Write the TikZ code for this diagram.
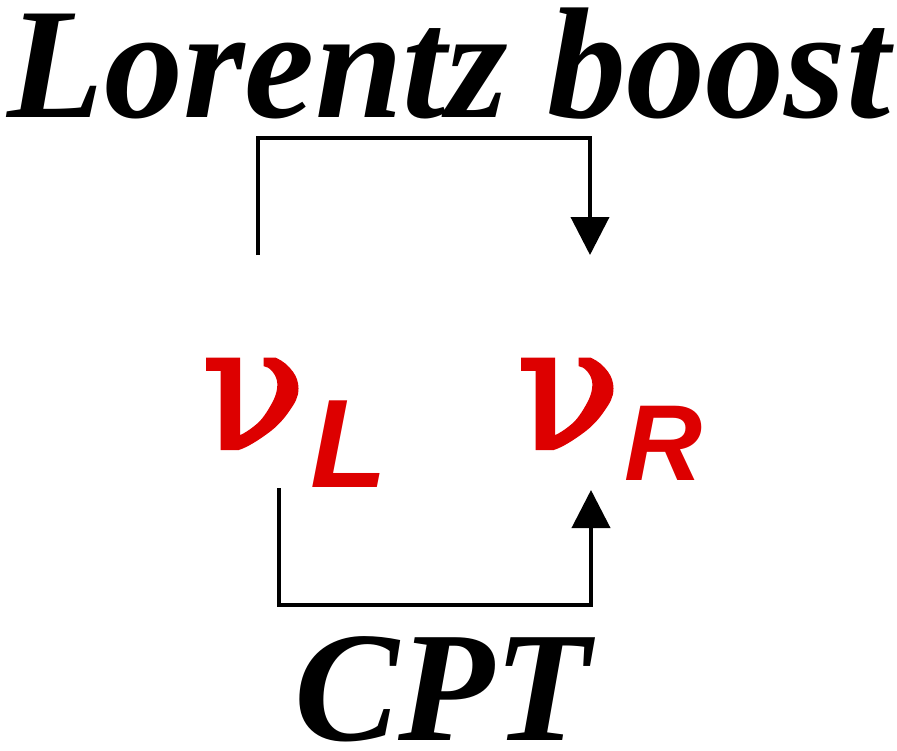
\documentclass[tikz,border=0pt]{standalone}
\usepackage{fontspec}
\setmainfont{Liberation Serif}
\newfontfamily\sanslab{Liberation Sans}
\newfontfamily\nufont[FakeBold=2.5]{DejaVu Serif}
\usetikzlibrary{arrows.meta}
\definecolor{nured}{RGB}{221,0,0}
\begin{document}
\begin{tikzpicture}[x=1pt,y=1pt,
  lbl/.style={inner sep=0pt,outer sep=0pt,anchor=base west,text depth=0pt},
  big/.style={lbl,text height=104pt,font=\fontsize{#1}{160}\selectfont\bfseries\itshape},
  nu/.style={lbl,text=nured,font=\nufont\fontsize{170}{170}\selectfont},
  sub/.style={lbl,text=nured,font=\sanslab\fontsize{#1}{#1}\selectfont\bfseries\itshape},
  conn/.style={line width=4pt,line join=miter,line cap=butt},
  tip/.style={-{Triangle[length=38pt,width=38pt]}}]
\useasboundingbox (0,0) rectangle (897,-750);
\node[big=158] (lb) at (8,-117) {Lorentz boost};
\node[big=157] (cpt) at (294,-740) {CPT};
\node[nu] (nuL) at (202,-448) {ν};
\node[sub=126] (subL) at (310,-487) {L};
\node[nu] (nuR) at (517,-448) {ν};
\node[sub=108] (subR) at (624,-480) {R};
\coordinate (a1) at (258,-255);
\coordinate (a2) at (258,-138);
\coordinate (a3) at (590,-138);
\coordinate (a4) at (590,-255);
\coordinate (b1) at (279,-488);
\coordinate (b2) at (279,-605);
\coordinate (b3) at (591,-605);
\coordinate (b4) at (591,-490);
\draw[conn,tip] (a1) -- (a2) -- (a3) -- (a4);
\draw[conn,tip] (b1) -- (b2) -- (b3) -- (b4);
\end{tikzpicture}
\end{document}
